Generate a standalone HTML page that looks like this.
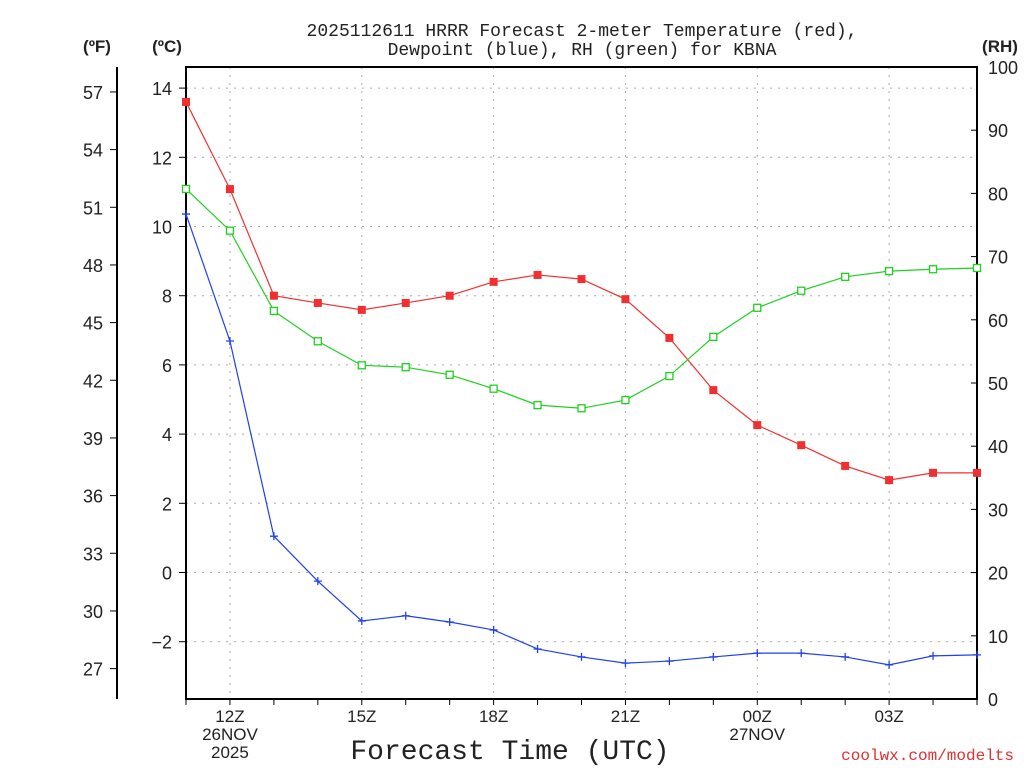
<!DOCTYPE html>
<html><head><meta charset="utf-8"><style>
body{margin:0;background:#fff;width:1024px;height:768px;overflow:hidden}
svg text{font-family:"Liberation Sans",sans-serif;fill:#222}
</style></head><body>
<svg id="chart" width="1024" height="768">
<text x="582" y="36" text-anchor="middle" font-size="18" style="font-family:'Liberation Mono',monospace">2025112611 HRRR Forecast 2-meter Temperature (red),</text>
<text x="582" y="55" text-anchor="middle" font-size="18" style="font-family:'Liberation Mono',monospace">Dewpoint (blue), RH (green) for KBNA</text>
<text x="97" y="52" text-anchor="middle" font-size="17" font-weight="bold">(ºF)</text>
<text x="167" y="52" text-anchor="middle" font-size="17" font-weight="bold">(ºC)</text>
<text x="1000" y="52" text-anchor="middle" font-size="17" font-weight="bold">(RH)</text>
<text x="510" y="759" text-anchor="middle" font-size="28" style="font-family:'Liberation Mono',monospace">Forecast Time (UTC)</text>
<text x="1014" y="760" text-anchor="end" font-size="16" style="fill:#e03030;font-family:'Liberation Mono',monospace">coolwx.com/modelts</text>
<g id="grid"></g><g id="axes"></g><g id="series"></g>
</svg>
<script>
const hours=["11Z","12Z","13Z","14Z","15Z","16Z","17Z","18Z","19Z","20Z","21Z","22Z","23Z","00Z","01Z","02Z","03Z","04Z","05Z"];
const tempC=[13.6,11.08,8.0,7.79,7.59,7.79,8.0,8.4,8.6,8.48,7.9,6.78,5.27,4.26,3.68,3.08,2.67,2.88,2.88];
const dewC=[10.36,6.69,1.05,-0.25,-1.4,-1.25,-1.43,-1.66,-2.21,-2.44,-2.62,-2.56,-2.44,-2.33,-2.33,-2.44,-2.67,-2.41,-2.38];
const rh=[80.7,74.1,61.4,56.6,52.8,52.5,51.3,49.1,46.5,46.0,47.3,51.1,57.3,61.9,64.6,66.8,67.7,68.0,68.2];
const cTicks=[-2,0,2,4,6,8,10,12,14];
const fTicks=[27,30,33,36,39,42,45,48,51,54,57];
const rhTicks=[0,10,20,30,40,50,60,70,80,90,100];
const xLabels=[{i:1,t:["12Z","26NOV","2025"]},{i:4,t:["15Z"]},{i:7,t:["18Z"]},{i:10,t:["21Z"]},{i:13,t:["00Z","27NOV"]},{i:16,t:["03Z"]}];
const NS="http://www.w3.org/2000/svg";
const L=186,R=977,T=67,B=699;
const x=i=>L+i*(R-L)/(hours.length-1);
const yC=c=>572.5-c*34.6;
const yF=f=>yC((f-32)*5/9);
const yRH=v=>B-v*(B-T)/100;
function mk(tag,attrs,parent){const e=document.createElementNS(NS,tag);for(const k in attrs)e.setAttribute(k,attrs[k]);document.getElementById(parent).appendChild(e);return e;}
cTicks.forEach(c=>{const e=mk('line',{x1:L,x2:R,y1:yC(c),y2:yC(c),stroke:'#aaa','stroke-dasharray':'2,6'},'grid');

});
xLabels.forEach(l=>{const e=mk('line',{x1:x(l.i),x2:x(l.i),y1:T,y2:B,stroke:'#aaa','stroke-dasharray':'2,6'},'grid');

});
const fr=mk('rect',{x:L,y:T,width:R-L,height:B-T,fill:'none',stroke:'#000','stroke-width':2},'axes');


const fa=mk('line',{x1:117,x2:117,y1:67,y2:699,stroke:'#000','stroke-width':2},'axes');


cTicks.forEach(c=>{mk('line',{x1:L-7,x2:L,y1:yC(c),y2:yC(c),stroke:'#000'},'axes');
const t=mk('text',{x:L-14,y:yC(c)+7,'text-anchor':'end','font-size':18},'axes');t.textContent=c<0?'\u2212'+(-c):c;

});
fTicks.forEach(f=>{mk('line',{x1:110,x2:117,y1:yF(f),y2:yF(f),stroke:'#000'},'axes');
const t=mk('text',{x:103,y:yF(f)+7,'text-anchor':'end','font-size':18},'axes');t.textContent=f;

});
rhTicks.forEach(v=>{mk('line',{x1:R-6,x2:R,y1:yRH(v),y2:yRH(v),stroke:'#000'},'axes');
const t=mk('text',{x:988,y:yRH(v)+7,'font-size':18},'axes');t.textContent=v;

});
hours.forEach((h,i)=>{mk('line',{x1:x(i),x2:x(i),y1:B,y2:B+6,stroke:'#000'},'axes');});
xLabels.forEach(l=>{l.t.forEach((s,k)=>{const t=mk('text',{x:x(l.i),y:722+k*18,'text-anchor':'middle','font-size':17},'axes');t.textContent=s;

});});
function line(vals,yf,color,name){const p=mk('polyline',{points:vals.map((v,i)=>x(i)+','+yf(v)).join(' '),fill:'none',stroke:color,'stroke-width':1.2},'series');

}
line(tempC,yC,'#f03030','temperature-line');
line(dewC,yC,'#2040f0','dewpoint-line');
line(rh,yRH,'#20d020','rh-line');
tempC.forEach((v,i)=>{const m=mk('rect',{x:x(i)-4,y:yC(v)-4,width:8,height:8,fill:'#f03030'},'series');

});
rh.forEach((v,i)=>{const m=mk('rect',{x:x(i)-3.5,y:yRH(v)-3.5,width:7,height:7,fill:'#fff',stroke:'#20d020','stroke-width':1.3},'series');

});
dewC.forEach((v,i)=>{const m=mk('path',{d:`M${x(i)-4},${yC(v)}h8M${x(i)},${yC(v)-4}v8`,stroke:'#2040f0','stroke-width':1.3},'series');

});
</script>
</body></html>
